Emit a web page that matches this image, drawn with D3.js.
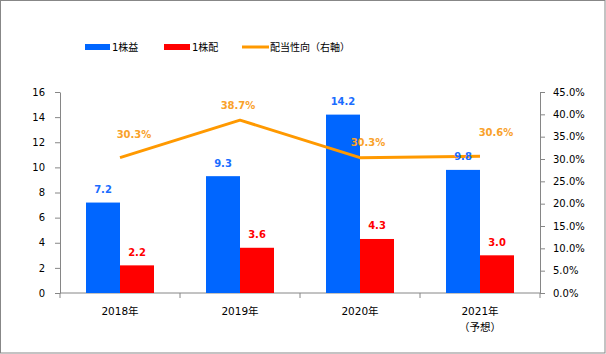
<!DOCTYPE html>
<html>
<head>
<meta charset="utf-8">
<script src="https://cdn.jsdelivr.net/npm/d3@7"></script>
<style>
  html, body { margin: 0; padding: 0; background: #fff; }
  svg text { font-family: "DejaVu Sans", "Noto Sans CJK JP", sans-serif; }
  .axis text { font-size: 10px; fill: #000; }
  .axis text.cat { font-size: 10.5px; }
  .axis line, .axis path { stroke: #868686; }
</style>
</head>
<body>
<div id="chart"></div>
<script>
// データ
const years   = ["2018年", "2019年", "2020年", "2021年"];
const yearSub = ["", "", "", "（予想）"];
const eps     = [7.2, 9.3, 14.2, 9.8];        // 1株益
const dps     = [2.2, 3.6, 4.3, 3.0];         // 1株配
const payout  = [0.303, 0.387, 0.303, 0.306]; // 配当性向(右軸)
const leftTicks  = [0, 2, 4, 6, 8, 10, 12, 14, 16];
const rightTicks = [0, 0.05, 0.10, 0.15, 0.20, 0.25, 0.30, 0.35, 0.40, 0.45];
const seriesNames = ["1株益", "1株配", "配当性向（右軸）"];

const C_BLUE = "#0066ff", C_RED = "#ff0000", C_ORANGE = "#ff9900";

const width = 606, height = 354;
const svg = d3.select("#chart").append("svg")
  .attr("width", width).attr("height", height);

// 外枠
svg.append("rect")
  .attr("x", 0.5).attr("y", 0.5)
  .attr("width", width - 1.5).attr("height", height - 1.5)
  .attr("fill", "#fff").attr("stroke", "#878787");

const plot = { left: 60, right: 540, top: 92, bottom: 293 };

const x = d3.scaleBand().domain(years).range([plot.left, plot.right]);
const x1 = d3.scaleBand().domain(["eps", "dps"]).range([26, x.bandwidth() - 26]);
const y  = d3.scaleLinear().domain([0, 16]).range([plot.bottom, plot.top]);
const yR = d3.scaleLinear().domain([0, 0.45]).range([plot.bottom, plot.top]);

// 左軸
svg.append("g").attr("class", "axis")
  .attr("transform", `translate(${plot.left},0)`)
  .call(d3.axisLeft(y).tickValues(leftTicks).tickSize(5).tickSizeOuter(0).tickPadding(10));

// 右軸
svg.append("g").attr("class", "axis")
  .attr("transform", `translate(${plot.right},0)`)
  .call(d3.axisRight(yR).tickValues(rightTicks).tickSize(5).tickSizeOuter(0)
    .tickPadding(8).tickFormat(d3.format(".1%")));

// X軸（区切り目盛）
const xAxis = svg.append("g").attr("class", "axis")
  .attr("transform", `translate(0,${plot.bottom})`);
xAxis.append("line")
  .attr("x1", plot.left).attr("x2", plot.right);
const bounds = years.map(d => x(d)).concat([plot.right]);
xAxis.selectAll("line.tk").data(bounds).join("line")
  .attr("class", "tk")
  .attr("x1", d => d).attr("x2", d => d)
  .attr("y1", 0).attr("y2", 5);
const xl = xAxis.selectAll("text.cat").data(years).join("text")
  .attr("class", "cat")
  .attr("x", d => x(d) + x.bandwidth() / 2)
  .attr("y", 22)
  .attr("text-anchor", "middle");
xl.append("tspan").text(d => d);
xl.append("tspan")
  .attr("x", d => x(d) + x.bandwidth() / 2)
  .attr("dy", 16)
  .text((d, i) => yearSub[i]);

// 棒グラフ
const rows = years.map((yr, i) => ({ yr, eps: eps[i], dps: dps[i], payout: payout[i] }));
const g = svg.append("g");
[["eps", C_BLUE], ["dps", C_RED]].forEach(([key, col]) => {
  g.selectAll(`rect.${key}`).data(rows).join("rect")
    .attr("class", key)
    .attr("x", d => x(d.yr) + x1(key))
    .attr("y", d => y(d[key]))
    .attr("width", x1.bandwidth())
    .attr("height", d => y(0) - y(d[key]))
    .attr("fill", col);
});

// 折れ線
const line = d3.line()
  .x(d => x(d.yr) + x.bandwidth() / 2)
  .y(d => yR(d.payout));
g.append("path")
  .datum(rows)
  .attr("d", line)
  .attr("fill", "none")
  .attr("stroke", C_ORANGE)
  .attr("stroke-width", 3)
  .attr("stroke-linejoin", "round");

// 数値ラベル
[["eps", "#1a6dff"], ["dps", "#ff0000"]].forEach(([key, col]) => {
  g.selectAll(`text.v-${key}`).data(rows).join("text")
    .attr("class", `v-${key}`)
    .attr("x", d => x(d.yr) + x1(key) + x1.bandwidth() / 2)
    .attr("y", d => y(d[key]) - 9.5)
    .attr("text-anchor", "middle")
    .attr("font-size", 10)
    .attr("font-weight", "bold")
    .attr("fill", col)
    .text(d => d3.format(".1f")(d[key]));
});

// 配当性向ラベル（手動配置のずれ）
const nudge = [[14, -20], [-2, -11], [8, -12], [16, -20]];
g.selectAll("text.v-pay").data(rows).join("text")
  .attr("class", "v-pay")
  .attr("x", (d, i) => x(d.yr) + x.bandwidth() / 2 + nudge[i][0])
  .attr("y", (d, i) => yR(d.payout) + nudge[i][1])
  .attr("text-anchor", "middle")
  .attr("font-size", 10)
  .attr("font-weight", "bold")
  .attr("fill", "#f9a12a")
  .text(d => d3.format(".1%")(d.payout));

// 凡例
const lg = svg.append("g").attr("font-size", 10);
const lgX = [85, 164, 242];
lg.append("rect").attr("x", lgX[0]).attr("y", 44).attr("width", 25).attr("height", 6).attr("fill", C_BLUE);
lg.append("rect").attr("x", lgX[1]).attr("y", 44).attr("width", 26).attr("height", 6).attr("fill", C_RED);
lg.append("line").attr("x1", lgX[2]).attr("x2", lgX[2] + 27).attr("y1", 47).attr("y2", 47)
  .attr("stroke", C_ORANGE).attr("stroke-width", 3);
lg.selectAll("text").data(seriesNames).join("text")
  .attr("x", (d, i) => lgX[i] + (i === 0 ? 27 : 28))
  .attr("y", 50.5)
  .text(d => d);
</script>
</body>
</html>
